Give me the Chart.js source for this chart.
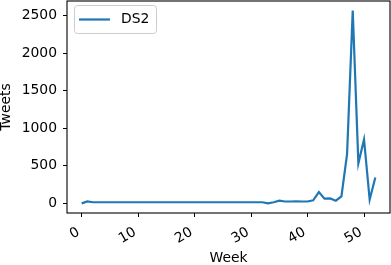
<!DOCTYPE html>
<html>
<head>
<meta charset="utf-8">
<script src="https://cdn.jsdelivr.net/npm/chart.js@4"></script>
<style>
  html, body { margin: 0; padding: 0; background: #fff; }
  #wrap { width: 391px; height: 265px; }
</style>
</head>
<body>
<div id="wrap"><canvas id="tweetChart" width="391" height="265"></canvas></div>
<script>
// Weekly tweet counts for DS2 (weeks 0..52)
const weeks = Array.from({ length: 53 }, (_, i) => i);
const tweets = [
    0, 25, 15, 15, 15, 15, 15, 15, 15, 15,
    15, 15, 15, 15, 15, 15, 15, 15, 15, 15,
    15, 15, 15, 15, 15, 15, 15, 15, 15, 15,
    15, 15, 15, 0, 15, 35, 25, 25, 28, 25,
    25, 40, 150, 62, 66, 36, 93, 660, 2570, 534,
    852, 49, 344
];
const xTicks = [0, 10, 20, 30, 40, 50];
const yTicks = [0, 500, 1000, 1500, 2000, 2500];
const seriesLabel = 'DS2';

const lineColor = '#1f77b4';
const fontFamily = 'DejaVu Sans';
const fontSize = 13.9;

// Draw the matplotlib style frame around the plot area
const framePlugin = {
    id: 'frame',
    afterDraw(chart) {
        const a = chart.chartArea;
        const ctx = chart.ctx;
        ctx.save();
        ctx.strokeStyle = '#000';
        ctx.lineWidth = 1.1;
        ctx.strokeRect(a.left, a.top, a.right - a.left, a.bottom - a.top);
        ctx.restore();
    }
};

// Legend in the upper left corner, inside a rounded white box
const insideLegendPlugin = {
    id: 'insideLegend',
    afterDatasetsDraw(chart) {
        const a = chart.chartArea;
        const ctx = chart.ctx;
        const ds = chart.data.datasets[0];
        const x = a.left + 7, y = a.top + 4;
        const w = 82, h = 28;
        ctx.save();
        ctx.fillStyle = 'rgba(255,255,255,0.8)';
        ctx.strokeStyle = '#cccccc';
        ctx.lineWidth = 1;
        ctx.beginPath();
        ctx.roundRect(x + 0.5, y + 0.5, w, h, 3);
        ctx.fill();
        ctx.stroke();

        const cy = y + h / 2 + 0.5;
        ctx.strokeStyle = ds.borderColor;
        ctx.lineWidth = ds.borderWidth;
        ctx.beginPath();
        ctx.moveTo(x + 5, cy);
        ctx.lineTo(x + 36, cy);
        ctx.stroke();

        ctx.fillStyle = '#000';
        ctx.font = fontSize + 'px "' + fontFamily + '"';
        ctx.textBaseline = 'middle';
        ctx.textAlign = 'left';
        ctx.fillText(ds.label, x + 47, cy);
        ctx.restore();
    }
};

// Stop the scales from reserving room for half labels at their ends
function noEdgePadding(scale) {
    scale.paddingTop = 0;
    scale.paddingBottom = 0;
    scale.paddingLeft = 0;
    scale.paddingRight = 0;
}

const ctx = document.getElementById('tweetChart').getContext('2d');
new Chart(ctx, {
    type: 'line',
    data: {
        datasets: [{
            label: seriesLabel,
            data: weeks.map((w, i) => ({ x: w, y: tweets[i] })),
            borderColor: lineColor,
            backgroundColor: lineColor,
            borderWidth: 2.2,
            pointRadius: 0,
            tension: 0,
            fill: false
        }]
    },
    options: {
        responsive: false,
        animation: false,
        layout: { padding: { top: 1, right: 1, bottom: 0, left: 0 } },
        plugins: {
            tooltip: { enabled: false },
            legend: { display: false }
        },
        scales: {
            x: {
                type: 'linear',
                min: -2.6,
                max: 54.6,
                afterBuildTicks(scale) { scale.ticks = xTicks.map(v => ({ value: v })); },
                afterFit(scale) { scale.height = 52; noEdgePadding(scale); },
                grid: { display: true, drawOnChartArea: false, drawTicks: true, tickLength: 4, tickColor: '#000' },
                border: { display: false },
                ticks: {
                    minRotation: 30,
                    maxRotation: 30,
                    padding: 7,
                    labelOffset: -3,
                    color: '#000',
                    font: { family: fontFamily, size: fontSize },
                    callback: v => String(v)
                },
                title: {
                    display: true,
                    text: 'Week',
                    color: '#000',
                    padding: { top: 0, bottom: -2 },
                    font: { family: fontFamily, size: fontSize }
                }
            },
            y: {
                type: 'linear',
                min: -128.5,
                max: 2698.5,
                afterBuildTicks(scale) { scale.ticks = yTicks.map(v => ({ value: v })); },
                afterFit(scale) { scale.width = 67; noEdgePadding(scale); },
                grid: { display: true, drawOnChartArea: false, drawTicks: true, tickLength: 4, tickColor: '#000' },
                border: { display: false },
                ticks: {
                    padding: 6,
                    color: '#000',
                    font: { family: fontFamily, size: fontSize },
                    callback: v => String(v)
                },
                title: {
                    display: true,
                    text: 'Tweets',
                    color: '#000',
                    padding: { top: -2, bottom: 0 },
                    font: { family: fontFamily, size: fontSize }
                }
            }
        }
    },
    plugins: [insideLegendPlugin, framePlugin]
});
</script>
</body>
</html>
